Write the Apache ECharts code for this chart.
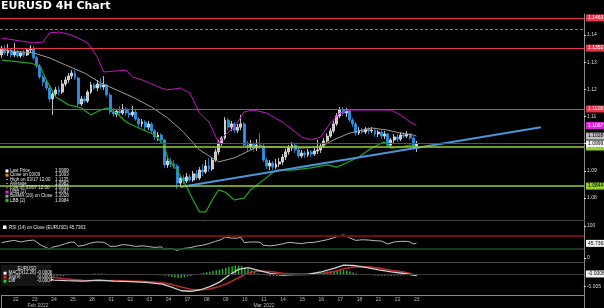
<!DOCTYPE html>
<html><head><meta charset="utf-8">
<script src="https://cdn.jsdelivr.net/npm/echarts@6/dist/echarts.min.js"></script>
<style>html,body{margin:0;padding:0;background:#000;}#c{width:604px;height:308px;}</style>
</head><body><div id="c"></div>
<script>
// ---------- DATA ----------
const days = ['02/21','02/22','02/23','02/24','02/25','02/28','03/01','03/02','03/03','03/04','03/07','03/08','03/09','03/10','03/11','03/14','03/15','03/16','03/17','03/18','03/21','03/22','03/23','03/24','03/25','03/28','03/29','03/30','03/31','04/01','04/04','04/05'];
const hours = ['00:00','04:00','08:00','12:00','16:00','20:00'];
const firstSlot = '02/21 20:00';
const slotCount = 183;
const monthLabels = {'02/23 16:00':'Feb 2022','03/11 12:00':'Mar 2022'};
const monthBoundary = '03/01 00:00';

// [open, close, low, high]
const candles = [
[1.1327,1.1352,1.1316,1.1360],[1.1352,1.1334,1.1327,1.1363],[1.1334,1.1345,1.1323,1.1367],[1.1345,1.1327,1.1319,1.1352],[1.1327,1.1338,1.1319,1.1371],
[1.1338,1.1323,1.1316,1.1345],[1.1323,1.1334,1.1316,1.1341],[1.1334,1.1327,1.1319,1.1345],[1.1327,1.1345,1.1323,1.1352],[1.1345,1.1352,1.1334,1.1363],
[1.1352,1.1316,1.1308,1.1360],[1.1316,1.1286,1.1279,1.1323],[1.1286,1.1246,1.1238,1.1293],[1.1246,1.1227,1.1212,1.1253],[1.1227,1.1205,1.1198,1.1235],
[1.1205,1.1165,1.1154,1.1212],[1.1165,1.1183,1.1106,1.1190],[1.1183,1.1198,1.1172,1.1209],[1.1198,1.1190,1.1179,1.1212],[1.1190,1.1220,1.1183,1.1235],
[1.1220,1.1235,1.1212,1.1246],[1.1235,1.1249,1.1224,1.1260],[1.1249,1.1260,1.1238,1.1271],[1.1260,1.1242,1.1235,1.1271],[1.1242,1.1146,1.1135,1.1246],
[1.1146,1.1165,1.1139,1.1176],[1.1165,1.1157,1.1150,1.1176],[1.1157,1.1190,1.1150,1.1198],[1.1190,1.1216,1.1183,1.1227],[1.1216,1.1205,1.1198,1.1224],
[1.1205,1.1220,1.1194,1.1235],[1.1220,1.1209,1.1201,1.1242],[1.1209,1.1216,1.1198,1.1249],[1.1216,1.1179,1.1172,1.1220],[1.1179,1.1117,1.1109,1.1187],
[1.1117,1.1109,1.1098,1.1132],[1.1109,1.1120,1.1098,1.1128],[1.1120,1.1113,1.1106,1.1139],[1.1113,1.1128,1.1106,1.1146],[1.1128,1.1113,1.1102,1.1135],
[1.1113,1.1106,1.1095,1.1124],[1.1106,1.1117,1.1098,1.1139],[1.1117,1.1091,1.1084,1.1124],[1.1091,1.1073,1.1061,1.1098],[1.1073,1.1080,1.1061,1.1091],
[1.1080,1.1061,1.1050,1.1087],[1.1061,1.1073,1.1050,1.1084],[1.1073,1.1047,1.1039,1.1080],[1.1047,1.1025,1.1014,1.1054],[1.1025,1.1032,1.1010,1.1043],
[1.1032,1.1014,1.1003,1.1039],[1.1014,1.0922,1.0911,1.1017],[1.0922,1.0936,1.0911,1.0955],[1.0936,1.0925,1.0914,1.0948],[1.0925,1.0918,1.0907,1.0940],
[1.0918,1.0855,1.0833,1.0925],[1.0855,1.0874,1.0844,1.0885],[1.0874,1.0863,1.0852,1.0885],[1.0863,1.0878,1.0855,1.0892],[1.0878,1.0866,1.0859,1.0889],
[1.0866,1.0889,1.0859,1.0900],[1.0889,1.0874,1.0866,1.0903],[1.0874,1.0903,1.0866,1.0914],[1.0903,1.0896,1.0881,1.0925],[1.0896,1.0918,1.0889,1.0940],
[1.0918,1.0907,1.0896,1.0948],[1.0907,1.0940,1.0900,1.0951],[1.0940,1.0970,1.0933,1.0981],[1.0970,1.1003,1.0959,1.1014],[1.1003,1.1021,1.0992,1.1028],
[1.1021,1.1087,1.1014,1.1098],[1.1087,1.1061,1.1050,1.1095],[1.1061,1.1073,1.1047,1.1084],[1.1073,1.1050,1.1039,1.1080],[1.1050,1.1061,1.1039,1.1073],
[1.1061,1.1073,1.1050,1.1106],[1.1073,1.0995,1.0988,1.1080],[1.0995,1.0988,1.0973,1.1010],[1.0988,1.0999,1.0977,1.1014],[1.0999,1.0984,1.0970,1.1006],
[1.0984,1.0995,1.0973,1.1017],[1.0995,1.0992,1.0981,1.1039],[1.0992,1.0940,1.0933,1.0999],[1.0940,1.0918,1.0907,1.0948],[1.0918,1.0929,1.0903,1.0940],
[1.0929,1.0914,1.0903,1.0936],[1.0914,1.0925,1.0907,1.0944],[1.0925,1.0933,1.0914,1.0948],[1.0933,1.0951,1.0922,1.0962],[1.0951,1.0970,1.0940,1.0981],
[1.0970,1.0984,1.0959,1.0995],[1.0984,1.0995,1.0973,1.1006],[1.0995,1.0977,1.0966,1.1003],[1.0977,1.0955,1.0948,1.0992],[1.0955,1.0966,1.0948,1.0977],
[1.0966,1.0959,1.0948,1.0973],[1.0959,1.0970,1.0951,1.0981],[1.0970,1.0962,1.0951,1.0977],[1.0962,1.0973,1.0955,1.0984],[1.0973,1.0977,1.0962,1.1014],
[1.0977,1.0992,1.0966,1.1003],[1.0992,1.1010,1.0984,1.1021],[1.1010,1.1028,1.1003,1.1039],[1.1028,1.1047,1.1021,1.1058],[1.1047,1.1073,1.1039,1.1084],
[1.1073,1.1102,1.1065,1.1113],[1.1102,1.1124,1.1095,1.1135],[1.1124,1.1113,1.1102,1.1135],[1.1113,1.1120,1.1098,1.1132],[1.1120,1.1087,1.1080,1.1128],
[1.1087,1.1073,1.1061,1.1095],[1.1073,1.1039,1.1028,1.1080],[1.1039,1.1050,1.1032,1.1061],[1.1050,1.1043,1.1036,1.1058],[1.1043,1.1054,1.1036,1.1061],
[1.1054,1.1047,1.1036,1.1061],[1.1047,1.1050,1.1039,1.1061],[1.1050,1.1036,1.1025,1.1058],[1.1036,1.1043,1.1025,1.1050],[1.1043,1.1028,1.1017,1.1050],
[1.1028,1.1036,1.1017,1.1047],[1.1036,1.0995,1.0984,1.1039],[1.0995,1.1014,1.0988,1.1021],[1.1014,1.1025,1.1003,1.1036],[1.1025,1.1017,1.1006,1.1036],
[1.1017,1.1032,1.1010,1.1043],[1.1032,1.1028,1.1021,1.1043],[1.1028,1.1036,1.1021,1.1047],[1.1036,1.1021,1.1014,1.1039],[1.1021,1.0992,1.0977,1.1028],
[1.0992,1.0999,1.0970,1.1010]
];

const ubb = [[0,1.1389],[10,1.1371],[13,1.1374],[15,1.1408],[18,1.1411],[22,1.1400],[27,1.1371],[30,1.1319],[32,1.1264],[39,1.1271],[41,1.1246],[44,1.1235],[50,1.1205],[52,1.1198],[56,1.1205],[59,1.1187],[62,1.1113],[65,1.1080],[68,1.1003],[70,1.1032],[73,1.1061],[76,1.1117],[79,1.1124],[83,1.1113],[88,1.1080],[94,1.1025],[97,1.1014],[100,1.1025],[103,1.1076],[106,1.1113],[109,1.1124],[116,1.1124],[122,1.1124],[125,1.1106],[128,1.1080],[130,1.1067]];
const bollMA = [[0,1.1345],[6,1.1338],[10,1.1334],[15,1.1316],[20,1.1290],[26,1.1260],[31,1.1224],[36,1.1198],[41,1.1172],[47,1.1135],[52,1.1095],[57,1.1043],[62,1.0977],[68,1.0933],[73,1.0948],[80,1.0988],[88,1.0988],[94,1.0984],[100,1.0988],[104,1.1014],[109,1.1039],[116,1.1058],[121,1.1050],[125,1.1039],[129,1.1032],[130,1.1028]];
const lbb = [[0,1.1308],[9,1.1297],[12,1.1286],[14,1.1235],[17,1.1172],[21,1.1143],[25,1.1132],[28,1.1106],[31,1.1124],[33,1.1132],[36,1.1113],[39,1.1080],[43,1.1058],[48,1.1032],[51,1.0995],[52,1.0948],[55,1.0903],[58,1.0841],[60,1.0793],[62,1.0749],[64,1.0749],[66,1.0793],[68,1.0830],[70,1.0822],[73,1.0793],[76,1.0800],[78,1.0830],[82,1.0866],[86,1.0903],[91,1.0903],[97,1.0911],[102,1.0922],[105,1.0914],[108,1.0929],[112,1.0951],[115,1.0977],[119,1.1003],[120,1.1006],[122,1.0984],[125,1.0988],[128,1.0995],[130,1.0984]];
const trend = [[56,1.0841],[169,1.1061]];

const resistance = [1.1463, 1.1352, 1.1128];
const support = [1.0988, 1.0844];
const dashedLevel = [1.1422];
const closeLevel = [1.1003];
const priceTicks = [1.08,1.09,1.10,1.11,1.12,1.13,1.14];

const rsi = [[0,48],[2,52],[4,55],[6,50],[8,54],[10,56],[11,50],[12,42],[13,37],[14,33],[15,28],[16,34],[18,38],[20,45],[22,50],[23,48],[24,37],[26,40],[28,47],[30,50],[32,49],[33,44],[34,36],[36,37],[38,42],[40,40],[42,36],[44,38],[46,36],[48,33],[50,35],[51,27],[53,30],[55,24],[57,30],[59,32],[61,37],[63,40],[65,45],[67,52],[69,58],[70,66],[72,62],[74,62],[75,65],[76,48],[78,50],[80,50],[81,49],[82,40],[84,38],[86,40],[88,44],[90,49],[92,47],[94,45],[96,48],[98,49],[100,53],[102,57],[104,63],[106,70],[107,72],[108,70],[109,63],[111,55],[113,57],[115,56],[117,54],[119,53],[121,44],[123,50],[125,52],[127,52],[128,50],[129,44],[130,45.7363]];
const rsiLevels = [70, 30];
const rsiTicks = [0, 100];

const macd = [[0,-0.0002],[8,-0.0004],[12,-0.0012],[16,-0.0024],[20,-0.0026],[25,-0.0028],[30,-0.0024],[35,-0.0028],[40,-0.0030],[45,-0.0033],[50,-0.0040],[53,-0.0052],[56,-0.0066],[59,-0.0068],[62,-0.0062],[65,-0.0050],[68,-0.0032],[71,-0.0005],[74,0.0018],[77,0.0025],[80,0.0015],[84,0.0002],[88,-0.0004],[92,-0.0002],[96,-0.0001],[100,0.0008],[104,0.0022],[107,0.0035],[110,0.0034],[114,0.0026],[118,0.0016],[122,0.0008],[126,0.0002],[130,-0.0006]];
const signal = [[0,0.0000],[8,-0.0002],[12,-0.0006],[16,-0.0014],[20,-0.0020],[25,-0.0025],[30,-0.0026],[35,-0.0026],[40,-0.0028],[45,-0.0030],[50,-0.0035],[53,-0.0041],[56,-0.0051],[59,-0.0060],[62,-0.0063],[65,-0.0059],[68,-0.0049],[71,-0.0034],[74,-0.0015],[77,0.0004],[80,0.0012],[84,0.0010],[88,0.0003],[92,-0.0001],[96,-0.0002],[100,0.0001],[104,0.0010],[107,0.0020],[110,0.0028],[114,0.0029],[118,0.0023],[122,0.0015],[126,0.0008],[130,-0.0005]];
const diff = [
-0.0002,-0.0002,-0.0001,-0.0001,0.0000,0.0001,0.0001,0.0000,-0.0001,-0.0002,
-0.0003,-0.0005,-0.0006,-0.0008,-0.0009,-0.0010,-0.0010,-0.0009,-0.0008,-0.0007,
-0.0006,-0.0005,-0.0004,-0.0004,-0.0003,-0.0003,-0.0002,-0.0001,0.0001,0.0002,
0.0002,0.0002,0.0001,0.0000,-0.0001,-0.0002,-0.0002,-0.0002,-0.0002,-0.0002,
-0.0002,-0.0002,-0.0003,-0.0003,-0.0003,-0.0003,-0.0004,-0.0004,-0.0004,-0.0005,
-0.0005,-0.0007,-0.0009,-0.0011,-0.0013,-0.0015,-0.0015,-0.0013,-0.0010,-0.0008,
-0.0005,-0.0002,0.0001,0.0004,0.0007,0.0009,0.0012,0.0015,0.0017,0.0020,
0.0024,0.0029,0.0031,0.0033,0.0033,0.0031,0.0027,0.0021,0.0015,0.0009,
0.0003,-0.0001,-0.0004,-0.0006,-0.0008,-0.0008,-0.0008,-0.0007,-0.0007,-0.0005,
-0.0004,-0.0002,-0.0001,-0.0001,0.0000,0.0001,0.0001,0.0002,0.0003,0.0005,
0.0007,0.0008,0.0010,0.0011,0.0012,0.0013,0.0014,0.0015,0.0013,0.0010,
0.0006,0.0003,0.0000,-0.0002,-0.0003,-0.0004,-0.0005,-0.0006,-0.0007,-0.0007,
-0.0007,-0.0007,-0.0007,-0.0007,-0.0006,-0.0006,-0.0006,-0.0005,-0.0005,-0.0004,
-0.0004
];
const macdTicks = [-0.005];

const mainLegend = [
  ['Last Price','1.0999'],['Close on 03/09','1.1003'],['High on 03/17 12:00','1.1135'],['Average','1.0982'],
  ['Low on 03/07 12:00','1.0833'],['UBB (2)','1.1067'],['BollMA (20) on Close','1.1028'],['LBB (2)','1.0984']
];
const rsiLegend = 'RSI (14) on Close (EURUSD) 45.7363';
const macdLegend = [['MACD(12,26)','-0.0006'],['Sig(9)','-0.0005'],['Diff','-0.0004']];

// ---------- BUILD ----------
const allSlots = [];
days.forEach(d => hours.forEach(h => allSlots.push(d + ' ' + h)));
const start = allSlots.indexOf(firstSlot);
const categories = allSlots.slice(start, start + slotCount);

const FONT = 'Liberation Sans, Arial, sans-serif';
const C = {
  up: '#c4c4c4', upB: '#eeeeee', down: '#2f95ea',
  red: '#e8344a', green: '#94d132', ubb: '#c616c6', ma: '#a39b88', lbb: '#22a322',
  trend: '#4a94da'
};
const lastOf = a => a[a.length - 1][1];
const lastClose = candles[candles.length - 1][1];

function tag(value, bg, fg, lineColor, width, type) {
  return {
    yAxis: value,
    lineStyle: { color: lineColor || 'rgba(0,0,0,0)', width: width || 1, type: type || 'solid' },
    label: bg ? {
      show: true, position: 'end', distance: 2, formatter: () => value.toFixed(4),
      backgroundColor: bg, color: fg, fontSize: 5, padding: [1, 2, 1, 2], fontFamily: FONT
    } : { show: false }
  };
}

const mainMarks = [];
resistance.forEach(v => mainMarks.push(tag(v, C.red, '#fff', C.red, 1.2)));
dashedLevel.forEach(v => mainMarks.push(tag(v, null, null, '#a07a30', 1, [3, 2])));
closeLevel.forEach(v => mainMarks.push(tag(v, null, null, '#7a4a18', 1)));
support.forEach(v => mainMarks.push(tag(v, C.green, '#000', C.green, 1.5)));
mainMarks.push(tag(lastOf(ubb), '#e020e0', '#fff'));
mainMarks.push(tag(lastOf(bollMA), '#bdbdbd', '#000'));
mainMarks.push(tag(lastClose, '#f2f2f2', '#000'));

const lineS = (name, data, color, width, x, y, extra) => Object.assign({
  name, type: 'line', data, xAxisIndex: x, yAxisIndex: y, symbol: 'none', silent: true,
  lineStyle: { color, width }, itemStyle: { color }, z: 3
}, extra || {});

const graphics = [];
mainLegend.forEach((row, i) => {
  const y = 171 + i * 4.2;
  const sq = ['#ffffff', '#e08a1e', null, null, null, '#e020e0', '#9a9a9a', '#2ec42e'][i];
  if (sq) graphics.push({ type: 'rect', shape: { x: 5.5, y: y - 1.5, width: 3, height: 3 }, style: { fill: sq }, z: 100 });
  else graphics.push({ type: 'rect', shape: { x: 6, y: y - 0.3, width: 2, height: 0.7 }, style: { fill: '#bbb' }, z: 100 });
  graphics.push({ type: 'text', x: 10, y: y, style: { text: row[0], fill: '#e6e6e6', font: '4.5px ' + FONT, verticalAlign: 'middle', textVerticalAlign: 'middle' }, z: 100 });
  graphics.push({ type: 'text', x: 55, y: y, style: { text: row[1], fill: '#e6e6e6', font: '4.5px ' + FONT, verticalAlign: 'middle', textVerticalAlign: 'middle' }, z: 100 });
});
graphics.push({ type: 'rect', shape: { x: 3, y: 225.5, width: 3.5, height: 3.5 }, style: { fill: '#fff' }, z: 100 });
graphics.push({ type: 'text', x: 9, y: 227.3, style: { text: rsiLegend, fill: '#e6e6e6', font: '4.5px ' + FONT, verticalAlign: 'middle', textVerticalAlign: 'middle' }, z: 100 });
graphics.push({ type: 'rect', shape: { x: 1, y: 265, width: 50, height: 21 }, style: { fill: '#151515' }, z: 99 });
graphics.push({ type: 'text', x: 27, y: 269, style: { text: 'EURUSD', fill: '#e6e6e6', font: '4.5px ' + FONT, align: 'center', textAlign: 'center', verticalAlign: 'middle', textVerticalAlign: 'middle' }, z: 100 });
macdLegend.forEach((row, i) => {
  const y = 273.2 + i * 4;
  graphics.push({ type: 'rect', shape: { x: 3.5, y: y - 1.5, width: 3, height: 3 }, style: { fill: ['#ffffff', '#d62828', '#22cc22'][i] }, z: 100 });
  graphics.push({ type: 'text', x: 8.5, y: y, style: { text: row[0], fill: '#e6e6e6', font: '4.5px ' + FONT, verticalAlign: 'middle', textVerticalAlign: 'middle' }, z: 100 });
  graphics.push({ type: 'text', x: 37, y: y, style: { text: row[1], fill: '#e6e6e6', font: '4.5px ' + FONT, verticalAlign: 'middle', textVerticalAlign: 'middle' }, z: 100 });
});

const baseX = (grid, extra) => Object.assign({
  type: 'category', data: categories, gridIndex: grid, boundaryGap: true,
  axisLine: { show: true, onZero: false, lineStyle: { color: '#444', width: 1 } },
  axisTick: { show: false }, axisLabel: { show: false }, splitLine: { show: false }
}, extra || {});

const yAx = (grid, min, max, ticks, fmt) => ({
  type: 'value', gridIndex: grid, position: 'right', min, max, scale: true,
  axisLine: { show: true, onZero: false, lineStyle: { color: '#8a8a8a', width: 1 } },
  axisTick: { show: true, customValues: ticks, length: 2, lineStyle: { color: '#ddd' } },
  axisLabel: { show: true, customValues: ticks, formatter: fmt, fontSize: 5, color: '#dcdcdc', margin: 3, fontFamily: FONT },
  splitLine: { show: false }
});

const option = {
  backgroundColor: '#000',
  animation: false,
  textStyle: { fontFamily: FONT },
  title: { text: 'EURUSD 4H Chart', left: 1, top: 1, padding: 0,
    textStyle: { color: '#fff', fontSize: 11, fontWeight: 'bold', fontFamily: 'DejaVu Sans, Verdana, sans-serif' } },
  grid: [
    { left: 0, right: 20, top: 14, height: 206 },
    { left: 0, right: 20, top: 221, height: 41 },
    { left: 0, right: 20, top: 262, height: 33 }
  ],
  xAxis: [
    baseX(0),
    baseX(1),
    baseX(2, {
      axisLine: { show: true, onZero: false, lineStyle: { color: '#8a8a8a', width: 1 } },
      axisLabel: { show: true, interval: 0, fontSize: 5, color: '#bbb', margin: 2, fontFamily: FONT,
        formatter: (v, i) => (i < candles.length && v.endsWith('12:00')) ? v.slice(3, 5) : '' }
    }),
    baseX(2, {
      position: 'bottom',
      axisLine: { show: false, onZero: false },
      axisTick: { show: true, interval: (i, v) => v === monthBoundary, length: 13, inside: false, lineStyle: { color: '#8a8a8a' } },
      axisLabel: { show: true, interval: 0, fontSize: 5, color: '#bbb', margin: 8, fontFamily: FONT,
        formatter: v => monthLabels[v] || '' }
    })
  ],
  yAxis: [
    yAx(0, 1.07192, 1.14775, priceTicks, v => v.toFixed(2)),
    yAx(1, -12.5, 115.6, rsiTicks, v => String(v)),
    yAx(2, -0.008268, 0.004724, macdTicks, v => v.toFixed(3))
  ],
  visualMap: [{
    type: 'piecewise', show: false, seriesIndex: 5, dimension: 1,
    pieces: [{ lt: 33, color: '#2aa52a' }, { gte: 33, lte: 68, color: '#b8b8b8' }, { gt: 68, color: '#b53030' }]
  }],
  graphic: graphics,
  series: [
    {
      name: 'EURUSD', type: 'candlestick', data: candles, xAxisIndex: 0, yAxisIndex: 0, barWidth: 2.4, silent: true,
      itemStyle: { color: C.up, color0: C.down, borderColor: C.upB, borderColor0: C.down, borderWidth: 0.8 },
      markLine: { silent: true, symbol: 'none', animation: false, precision: 4, data: mainMarks },
      z: 2
    },
    lineS('UBB', ubb, C.ubb, 1, 0, 0),
    lineS('BollMA', bollMA, C.ma, 1, 0, 0),
    lineS('LBB', lbb, C.lbb, 1.2, 0, 0),
    lineS('Trend', trend, C.trend, 2, 0, 0, { z: 4 }),
    lineS('RSI', rsi, '#b8b8b8', 1, 1, 1, {
      markLine: { silent: true, symbol: 'none', animation: false, data: [
        { yAxis: rsiLevels[0], lineStyle: { color: '#6e0e0e', width: 2, type: 'solid' }, label: { show: false } },
        { yAxis: rsiLevels[1], lineStyle: { color: '#1d4f1d', width: 1.5, type: 'solid' }, label: { show: false } },
        tag(lastOf(rsi), '#f2f2f2', '#000')
      ] }
    }),
    {
      name: 'Diff', type: 'bar', data: diff, xAxisIndex: 2, yAxisIndex: 2, barWidth: 1.4, silent: true,
      itemStyle: { color: '#1fc21f' }, z: 2,
      markLine: { silent: true, symbol: 'none', animation: false, data: [
        { yAxis: 0, lineStyle: { color: '#3a3a3a', width: 1, type: 'solid' }, label: { show: false } }
      ] }
    },
    lineS('Signal', signal, '#b52a2a', 1.6, 2, 2),
    lineS('MACD', macd, '#cfcfcf', 1.3, 2, 2, {
      markLine: { silent: true, symbol: 'none', animation: false, data: [ tag(lastOf(macd), '#f2f2f2', '#000') ] }
    })
  ]
};
option.series[8].markLine.data[0].label.formatter = () => lastOf(macd).toFixed(4);
option.series[5].markLine.data[2].label.formatter = () => lastOf(rsi).toFixed(4);

const chart = echarts.init(document.getElementById('c'), null, { renderer: 'canvas' });
chart.setOption(option);
</script>
</body></html>
